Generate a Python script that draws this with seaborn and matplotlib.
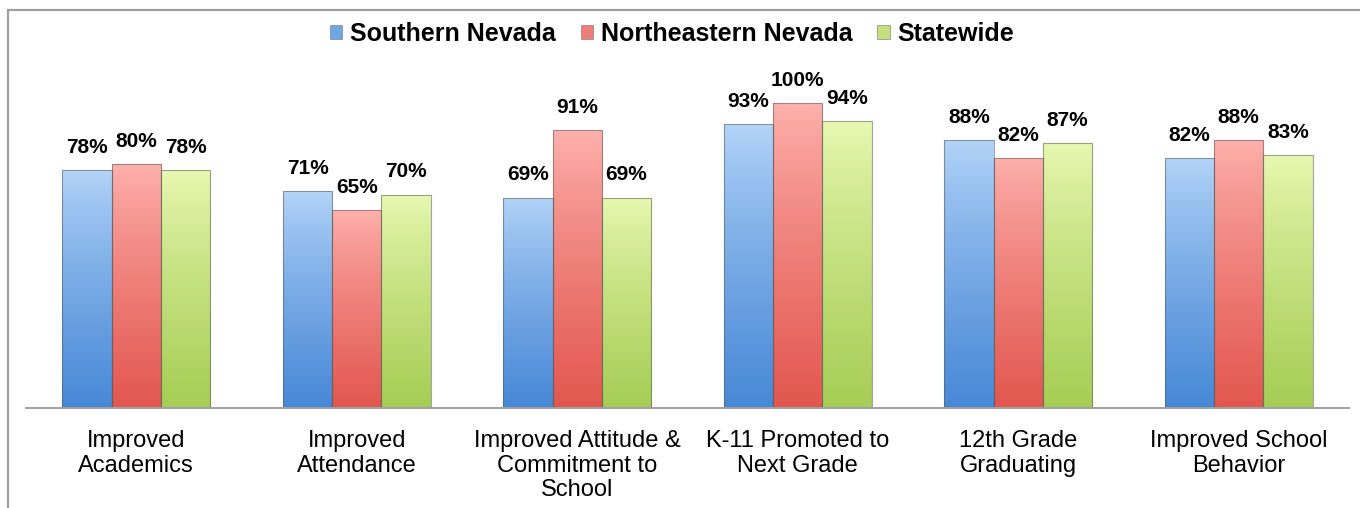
import numpy as np
import pandas as pd
import matplotlib
matplotlib.use("Agg")
import matplotlib.pyplot as plt
import seaborn as sns
from matplotlib.colors import to_rgba
from matplotlib.lines import Line2D
from matplotlib.patches import Patch

# --- data ---
categories = ["Improved\nAcademics", "Improved\nAttendance",
              "Improved Attitude &\nCommitment to\nSchool",
              "K-11 Promoted to\nNext Grade", "12th Grade\nGraduating",
              "Improved School\nBehavior"]
regions = ["Southern Nevada", "Northeastern Nevada", "Statewide"]
southern = [78, 71, 69, 93, 88, 82]
northeastern = [80, 65, 91, 100, 82, 88]
statewide = [78, 70, 69, 94, 87, 83]

# light top / strong bottom for each series
tops = ["#B6D6F9", "#FFB3AF", "#E9F9B3"]
bottoms = ["#4788D6", "#E2574F", "#A6CD55"]
mids = ["#6FA6E6", "#F07E78", "#C4E07E"]

df = pd.DataFrame({
    "Category": categories * 3,
    "Region": np.repeat(regions, len(categories)),
    "Value": southern + northeastern + statewide,
})

sns.set_style("white")
plt.rcParams["font.family"] = ["Liberation Sans", "DejaVu Sans"]
plt.rcParams["text.color"] = "black"
plt.rcParams["xtick.color"] = "black"

fig = plt.figure(figsize=(13.6, 5.08), dpi=100)
ax = fig.add_axes([26 / 1360, 100 / 508, 1323 / 1360, 366 / 508])

sns.barplot(data=df, x="Category", y="Value", hue="Region", order=categories,
            hue_order=regions, width=0.67, gap=0, palette=mids, legend=False,
            ax=ax, saturation=1)

# --- gradient fill for each bar ---
for i, cont in enumerate(ax.containers):
    c_top = np.array(to_rgba(tops[i]))
    c_bot = np.array(to_rgba(bottoms[i]))
    t = np.linspace(0, 1, 256)[:, None, None] ** 0.8
    grad = c_top * (1 - t) + c_bot * t
    for bar in cont:
        x0, y0 = bar.get_x(), bar.get_y()
        w, h = bar.get_width(), bar.get_height()
        im = ax.imshow(grad, extent=[x0, x0 + w, y0, y0 + h], origin="upper",
                       aspect="auto", zorder=1.5, interpolation="bilinear")
        im.set_clip_path(bar)
        bar.set_facecolor("none")
        bar.set_edgecolor((0.35, 0.35, 0.35, 0.55))
        bar.set_linewidth(0.8)
        bar.set_zorder(2)
        ax.annotate(f"{int(round(h))}%", (x0 + w / 2, y0 + h),
                    xytext=(0, 12.3), textcoords="offset points",
                    ha="center", va="baseline", fontsize=15,
                    fontweight="bold", color="black")

ax.set_xlim(-0.5, len(categories) - 0.5)
ax.set_ylim(0, 120)

# --- axes styling ---
for s in ["top", "right", "left"]:
    ax.spines[s].set_visible(False)
ax.spines["bottom"].set_color("#A0A0A0")
ax.spines["bottom"].set_linewidth(1.4)
ax.set_yticks([])
ax.set_xlabel("")
ax.set_ylabel("")
ax.set_xticks(range(len(categories)))
ax.set_xticklabels(categories, fontsize=17, linespacing=1.15, color="black")
ax.set_xticks(np.arange(-0.5, len(categories)), minor=True)
ax.tick_params(axis="x", which="major", length=0, pad=16)
ax.tick_params(axis="x", which="minor", length=4, width=1.4, color="#A0A0A0",
               direction="out")

# --- legend ---
handles = [Patch(facecolor=mids[i], edgecolor=(0.4, 0.4, 0.4, 0.6), linewidth=0.6)
           for i in range(3)]
leg = fig.legend(handles, regions, loc="center", bbox_to_anchor=(0.494, 0.933),
                 ncol=3, frameon=False, prop={"size": 18, "weight": "bold"},
                 handlelength=0.5, handleheight=0.5, handletextpad=0.3,
                 columnspacing=1.0, labelcolor="black")

# --- outer frame ---
fig.add_artist(Line2D([8 / 1360, 1], [1 - 10 / 508, 1 - 10 / 508],
                      transform=fig.transFigure, color="#A0A0A0", linewidth=1.6))
fig.add_artist(Line2D([8 / 1360, 8 / 1360], [0, 1 - 10 / 508],
                      transform=fig.transFigure, color="#A0A0A0", linewidth=1.6))

fig.savefig("out.png", dpi=100)
